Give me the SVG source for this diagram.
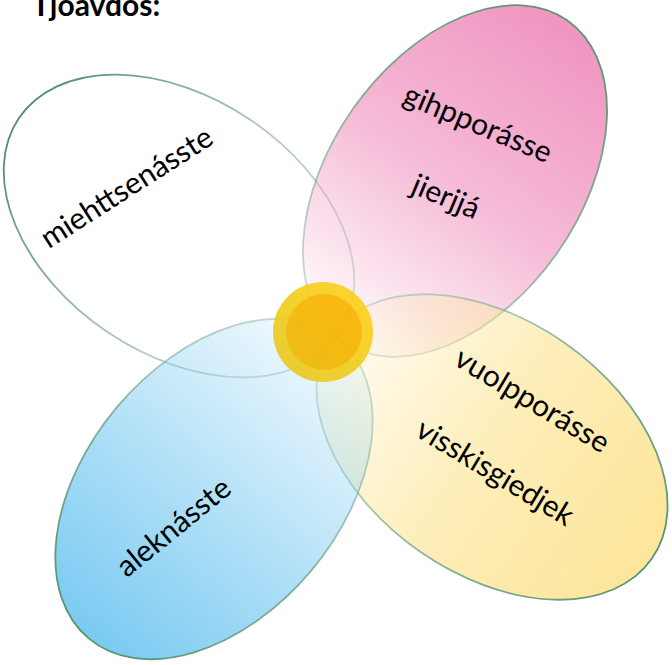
<svg xmlns="http://www.w3.org/2000/svg" width="672" height="665" viewBox="0 0 672 665">
  <style>
    .lbl { font-family: "Lato", "Liberation Sans", sans-serif; font-size: 30px; fill: #000; text-anchor: middle; }
    .title { font-family: "Lato", "Liberation Sans", sans-serif; font-size: 30px; font-weight: bold; fill: #000; }
    .petal { stroke-width: 1.8; }
  </style>
  <defs>
    <linearGradient id="gWhiteStroke" x1="0" y1="0" x2="1" y2="0">
      <stop offset="0" stop-color="#7FA893" stop-opacity="0.35"/>
      <stop offset="0.5" stop-color="#6E9F86" stop-opacity="0.6"/>
      <stop offset="1" stop-color="#4F8D69" stop-opacity="1"/>
    </linearGradient>
    <linearGradient id="gStroke" x1="0" y1="0" x2="1" y2="0">
      <stop offset="0" stop-color="#7FA893" stop-opacity="0.35"/>
      <stop offset="0.5" stop-color="#6E9F86" stop-opacity="0.75"/>
      <stop offset="1" stop-color="#5A9474" stop-opacity="1"/>
    </linearGradient>
    <linearGradient id="gPink" x1="0" y1="0" x2="1" y2="0">
      <stop offset="0" stop-color="#F095C0" stop-opacity="0.02"/>
      <stop offset="0.5" stop-color="#F095C0" stop-opacity="0.65"/>
      <stop offset="1" stop-color="#F095C0" stop-opacity="1"/>
    </linearGradient>
    <linearGradient id="gYellow" x1="0" y1="0" x2="1" y2="0">
      <stop offset="0" stop-color="#FDE69A" stop-opacity="0.1"/>
      <stop offset="0.5" stop-color="#FDE69A" stop-opacity="0.7"/>
      <stop offset="1" stop-color="#FDE69A" stop-opacity="1"/>
    </linearGradient>
    <linearGradient id="gBlue" x1="0" y1="0" x2="1" y2="0">
      <stop offset="0" stop-color="#7ACAF2" stop-opacity="0.08"/>
      <stop offset="0.5" stop-color="#7ACAF2" stop-opacity="0.55"/>
      <stop offset="1" stop-color="#7ACAF2" stop-opacity="1"/>
    </linearGradient>
    <linearGradient id="gSunOuter" x1="1" y1="0" x2="0" y2="1">
      <stop offset="0" stop-color="#FFD41C"/>
      <stop offset="1" stop-color="#E6C925"/>
    </linearGradient>
    <linearGradient id="gSunInner" x1="1" y1="0" x2="0" y2="1">
      <stop offset="0" stop-color="#FFB300"/>
      <stop offset="1" stop-color="#EDBA05"/>
    </linearGradient>
  </defs>

  <text class="title" x="32" y="16">Tjoavdos:</text>

  <g id="petal-miehttsenasste">
    <ellipse class="petal" cx="0" cy="0" rx="193" ry="128" transform="translate(179,226) rotate(214)" fill="none" stroke="url(#gWhiteStroke)"/>
    <text class="lbl" transform="translate(132,196) rotate(-32.6)">miehttsenásste</text>
  </g>

  <g id="petal-gihpporasse">
    <ellipse class="petal" cx="0" cy="0" rx="196" ry="125" transform="translate(455,181) rotate(-55)" fill="url(#gPink)" stroke="url(#gStroke)"/>
    <text class="lbl" transform="translate(474,133) rotate(22.7)">gihpporásse</text>
    <text class="lbl" transform="translate(442,206) rotate(22.7)">jierjjá</text>
  </g>

  <g id="petal-vuolpporasse">
    <ellipse class="petal" cx="0" cy="0" rx="195" ry="127" transform="translate(492,447) rotate(35)" fill="url(#gYellow)" stroke="url(#gStroke)"/>
    <text class="lbl" transform="translate(527,409) rotate(31)">vuolpporásse</text>
    <text class="lbl" transform="translate(490,481) rotate(31)">visskisgiedjek</text>
  </g>

  <g id="petal-aleknasste">
    <ellipse class="petal" cx="0" cy="0" rx="195" ry="127" transform="translate(214,489) rotate(130)" fill="url(#gBlue)" stroke="url(#gStroke)"/>
    <text class="lbl" transform="translate(180,535) rotate(-39.2)">aleknásste</text>
  </g>

  <g id="sun" opacity="0.93">
    <circle cx="323" cy="332" r="50" fill="url(#gSunOuter)"/>
    <circle cx="324" cy="332" r="38" fill="url(#gSunInner)"/>
  </g>
</svg>
